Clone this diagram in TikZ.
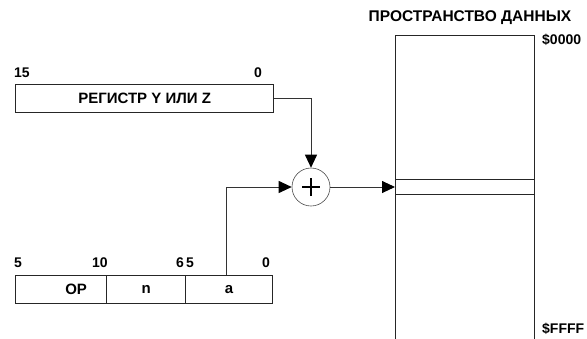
\documentclass[tikz,border=0pt]{standalone}
\usepackage{fontspec}
\setmainfont{Liberation Sans}
\usetikzlibrary{arrows.meta}
\begin{document}
\begin{tikzpicture}[x=1pt,y=-1pt,
  line/.style={draw=black!85, line width=1.2pt},
  field/.style={line, rectangle, inner sep=0pt, minimum height=28pt, anchor=north west, font=\fontsize{15}{15}\selectfont\bfseries},
  bit/.style={font=\fontsize{14}{14}\selectfont\bfseries, inner sep=0pt},
  conn/.style={draw=black!80, line width=0.9pt, -{Triangle[length=13pt,width=12pt,color=black]}},
  big/.style={font=\fontsize{15.5}{15.5}\selectfont\bfseries, inner sep=0pt}]
\useasboundingbox (0,0) rectangle (587,338);
\clip (0,0) rectangle (587,338);
% register
\node[field, minimum width=258pt] (reg) at (15,84) {РЕГИСТР Y ИЛИ Z};
\node[bit, anchor=west] (b15) at (14,73) {15};
\node[bit] (b0) at (258,73) {0};
% instruction fields
\node[field, minimum width=91pt, label={[font=\fontsize{15}{15}\selectfont\bfseries, xshift=15pt]center:OP}] (op) at (15,275) {};
\node[field, minimum width=79pt] (nf) at (106,275) {n};
\node[field, minimum width=87pt] (af) at (185,275) {a};
\node[bit, anchor=west] (c5) at (14,263) {5};
\node[bit] (c10) at (100,263) {10};
\node[bit] (c6) at (180,263) {6};
\node[bit] (c5b) at (190,263) {5};
\node[bit] (c0) at (266,263) {0};
% adder
\node[circle, draw=black!70, line width=0.6pt, minimum size=38pt, inner sep=0pt] (sum) at (311,187) {};
\draw[line width=1.8pt] ([xshift=-9pt]sum.center) -- ([xshift=9pt]sum.center);
\draw[line width=1.8pt] ([yshift=-9pt]sum.center) -- ([yshift=9pt]sum.center);
% memory
\node[line, rectangle, inner sep=0pt, minimum width=139pt, minimum height=330pt, anchor=north west] (mem) at (395,35) {};
\draw[line] ([yshift=7.5pt]mem.west |- sum.center) -- ([yshift=7.5pt]mem.east |- sum.center);
\draw[line] ([yshift=-7.5pt]mem.west |- sum.center) -- ([yshift=-7.5pt]mem.east |- sum.center);
\node[big] (title) at (470,18) {ПРОСТРАНСТВО ДАННЫХ};
\node[bit, anchor=west] (a0) at (542,40) {\$0000};
\node[bit, anchor=west] (aF) at (542,329) {\$FFFF};
% connectors
\draw[conn] (reg.east) -| (sum.north);
\draw[conn] ([xshift=-3pt]af.north) |- (sum.west);
\draw[conn] (sum.east) -- (mem.west |- sum.center);
\end{tikzpicture}
\end{document}
